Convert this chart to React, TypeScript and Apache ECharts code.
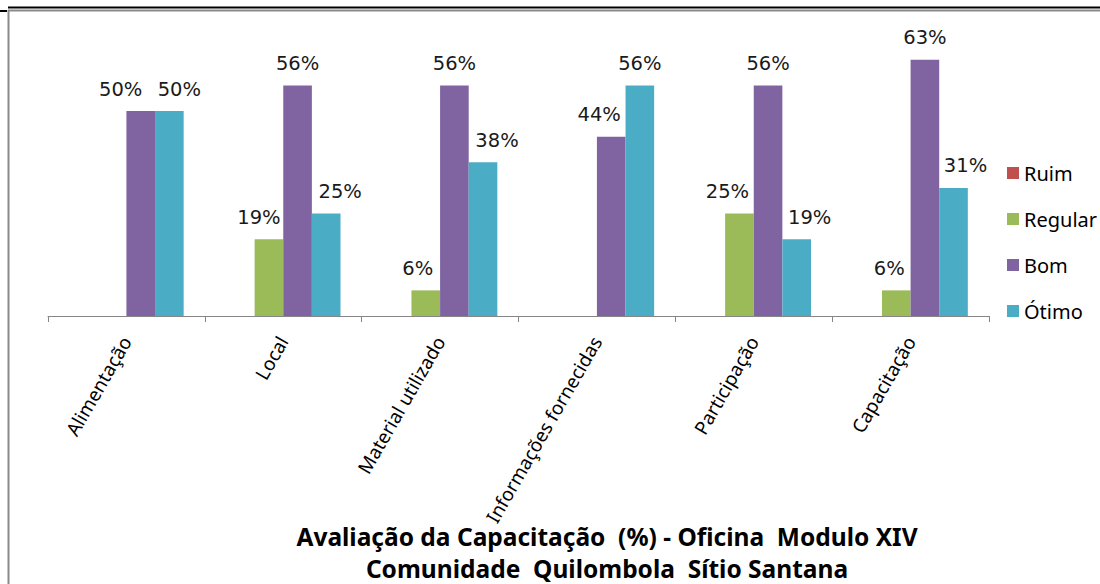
import React, { useEffect, useRef } from "react";
import * as echarts from "echarts";

const categories = [
  "Alimentação",
  "Local",
  "Material utilizado",
  "Informações fornecidas",
  "Participação",
  "Capacitação",
];
const seriesNames = ["Ruim", "Regular", "Bom", "Ótimo"];
const ruim = [0, 0, 0, 0, 0, 0];
const regular = [0, 18.75, 6.25, 0, 25, 6.25];
const bom = [50, 56.25, 56.25, 43.75, 56.25, 62.5];
const otimo = [50, 25, 37.5, 56.25, 18.75, 31.25];
const titleLines = [
  "Avaliação da Capacitação  (%) - Oficina  Modulo XIV",
  "Comunidade  Quilombola  Sítio Santana",
];

// label horizontal shifts (layout only)
const shiftRuim = [0, 0, 0, 0, 0, 0];
const shiftRegular = [0, -10, -8, 0, -12, -7];
const shiftBom = [-20, 0, 0, -12, 0, 0];
const shiftOtimo = [10, 14, 14, 0, 13, 12];

const colors = ["#C0504D", "#9BBB59", "#8064A2", "#4BACC6"];

export default function App() {
  const ref = useRef<HTMLDivElement>(null);
  useEffect(() => {
    if (!ref.current) return;
    const chart = echarts.init(ref.current, undefined, { renderer: "svg" });
    const values = [ruim, regular, bom, otimo];
    const shifts = [shiftRuim, shiftRegular, shiftBom, shiftOtimo];
    const series = seriesNames.map((name, si) => ({
      name,
      type: "bar",
      barGap: "0%",
      barCategoryGap: "27%",
      itemStyle: { color: colors[si] },
      data: values[si].map((v, i) => ({
        value: v,
        label: { offset: [shifts[si][i], 0] },
      })),
      label: {
        show: true,
        position: "top",
        distance: 12,
        fontFamily: "DejaVu Sans",
        fontSize: 19.5,
        color: "#1a1a1a",
        formatter: (p: any) => (p.value > 0 ? Math.round(p.value) + "%" : ""),
      },
    }));
    chart.setOption({
      animation: false,
      color: colors,
      title: {
        text: titleLines.join("\n"),
        left: 607,
        top: 520,
        padding: 0,
        textAlign: "center",
        textStyle: {
          fontFamily: "Noto Sans",
          fontWeight: "bold",
          fontSize: 24.5,
          lineHeight: 32,
          color: "#000",
        },
      },
      legend: {
        orient: "vertical",
        left: 1002,
        top: 158,
        itemWidth: 12,
        itemHeight: 12,
        itemGap: 26,
        itemStyle: { borderWidth: 0 },
        icon: "rect",
        data: seriesNames,
        textStyle: {
          fontFamily: "Noto Sans",
          fontSize: 20,
          lineHeight: 20,
          color: "#000",
          padding: [0, 0, 0, 0],
        },
      },
      grid: { left: 48, right: 111, top: 29, bottom: 584 - 316 },
      xAxis: {
        type: "category",
        data: categories,
        axisLine: { lineStyle: { color: "#868686", width: 1 } },
        axisTick: { show: true, length: 6, lineStyle: { color: "#868686" } },
        axisLabel: {
          rotate: 60,
          margin: 22,
          interval: 0,
          fontFamily: "Noto Sans",
          fontSize: 19,
          color: "#000",
        },
      },
      yAxis: {
        type: "value",
        min: 0,
        max: 70,
        show: false,
        splitLine: { show: false },
      },
      graphic: [
        { type: "line", shape: { x1: 8, y1: 7.5, x2: 1100, y2: 7.5 }, style: { stroke: "#000", lineWidth: 2 } },
        { type: "line", shape: { x1: 0, y1: 11, x2: 7, y2: 11 }, style: { stroke: "#000", lineWidth: 2 } },
        { type: "line", shape: { x1: 8, y1: 10.5, x2: 1100, y2: 10.5 }, style: { stroke: "#8a8a8a", lineWidth: 2 } },
        { type: "line", shape: { x1: 8.5, y1: 10, x2: 8.5, y2: 584 }, style: { stroke: "#8a8a8a", lineWidth: 2 } },
      ],
      series,
    });
    return () => chart.dispose();
  }, []);
  return (
    <div
      ref={ref}
      style={{ position: "fixed", left: 0, top: 0, width: 1100, height: 584, background: "#fff" }}
    />
  );
}
